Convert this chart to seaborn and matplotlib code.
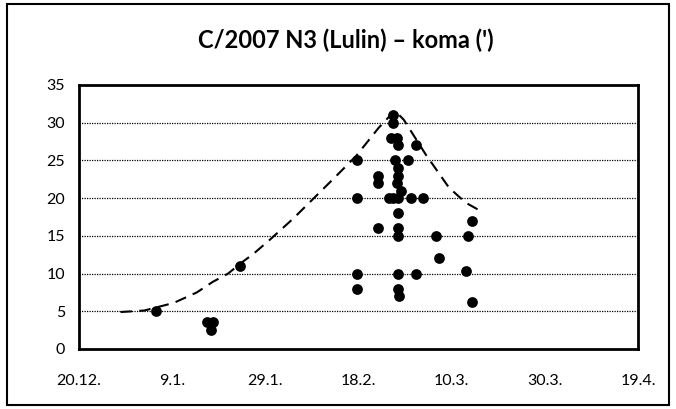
import matplotlib
matplotlib.use("Agg")
import matplotlib.pyplot as plt
import matplotlib.dates as mdates
from matplotlib.patches import Rectangle
from matplotlib.ticker import FixedLocator, FuncFormatter
import seaborn as sns
import pandas as pd

# ---- data ----
obs_dates = [
    "2009-01-05 14:00", "2009-01-16 14:00", "2009-01-17 17:00", "2009-01-17 10:00",
    "2009-01-23 14:00",
    "2009-02-17 14:00", "2009-02-17 14:00", "2009-02-17 14:00", "2009-02-17 14:00",
    "2009-02-22 07:00", "2009-02-22 07:00", "2009-02-22 07:00",
    "2009-02-25 12:00", "2009-02-25 10:00", "2009-02-25 00:00", "2009-02-26 07:00",
    "2009-02-26 10:00", "2009-03-02 10:00",
    "2009-02-25 22:00", "2009-02-28 14:00", "2009-02-26 10:00", "2009-02-26 10:00",
    "2009-02-26 07:00", "2009-02-27 05:00",
    "2009-02-24 14:00", "2009-02-25 12:00", "2009-02-26 14:00", "2009-03-01 07:00",
    "2009-03-03 19:00",
    "2009-02-26 10:00", "2009-02-26 10:00", "2009-02-26 10:00",
    "2009-03-06 17:00", "2009-03-13 14:00", "2009-03-14 07:00", "2009-03-07 07:00",
    "2009-02-26 12:00", "2009-03-02 10:00", "2009-03-13 00:00",
    "2009-02-26 10:00", "2009-02-26 17:00", "2009-03-14 10:00",
]
obs_coma = [
    5, 3.6, 3.6, 2.5,
    11,
    25, 20, 10, 8,
    23, 22, 16,
    31, 30, 28, 28,
    27, 27,
    25, 25, 24, 23,
    22, 21,
    20, 20, 20, 20,
    20,
    18, 16, 15,
    15, 15, 17, 12,
    10, 10, 10.3,
    8, 7, 6.2,
]

model_dates = [
    "2008-12-28 22:00", "2009-01-03 00:00", "2009-01-09 07:00", "2009-01-14 07:00",
    "2009-01-17 17:00", "2009-01-21 00:00", "2009-01-24 00:00", "2009-01-26 10:00",
    "2009-01-30 00:00", "2009-02-04 00:00", "2009-02-08 14:00", "2009-02-13 00:00",
    "2009-02-17 12:00", "2009-02-22 07:00", "2009-02-25 19:00", "2009-02-27 17:00",
    "2009-03-04 10:00", "2009-03-09 10:00", "2009-03-13 00:00", "2009-03-16 05:00",
]
model_coma = [
    4.9, 5.1, 6.1, 7.5,
    8.9, 10.0, 11.5, 12.6,
    14.5, 17.3, 20.1, 22.8,
    25.6, 29.3, 31.6, 30.4,
    25.8, 21.4, 19.4, 18.3,
]

y_ticks = [0, 5, 10, 15, 20, 25, 30, 35]
x_start, x_end = "2008-12-20", "2009-04-19"

title = "C/2007 N3 (Lulin) – koma (')"

# ---- build ----
obs = pd.DataFrame({"date": pd.to_datetime(obs_dates), "coma": obs_coma})
model = pd.DataFrame({"date": pd.to_datetime(model_dates), "coma": model_coma})

sns.set_style("white")
plt.rcParams["font.family"] = ["Lato", "DejaVu Sans"]

fig = plt.figure(figsize=(6.76, 4.09), dpi=100)
ax = fig.add_axes([79 / 676, 1 - 349 / 409, (638 - 79) / 676, (349 - 85) / 409])

sns.lineplot(data=model, x="date", y="coma", ax=ax, sort=False, estimator=None,
             color="black", linewidth=1.5, linestyle=(0, (5.5, 3.5)), zorder=3)
sns.scatterplot(data=obs, x="date", y="coma", ax=ax, color="black", s=60,
                edgecolor="black", linewidth=0, zorder=4)

x0, x1 = pd.Timestamp(x_start), pd.Timestamp(x_end)
ax.set_xlim(mdates.date2num(x0), mdates.date2num(x1))
ax.set_ylim(y_ticks[0], y_ticks[-1])

major = pd.date_range(x0, x1, freq="20D")
minor = pd.date_range(x0, x1, freq="10D")
ax.xaxis.set_major_locator(FixedLocator(mdates.date2num(major)))
ax.xaxis.set_minor_locator(FixedLocator(mdates.date2num(minor)))
ax.xaxis.set_major_formatter(FuncFormatter(
    lambda v, p: "{}.{}.".format(mdates.num2date(v).day, mdates.num2date(v).month)))
ax.set_yticks(y_ticks)

for yv in y_ticks[1:-1]:
    ax.axhline(yv, color="black", linewidth=0.9, linestyle=(0, (1, 1)), zorder=1)

for s in ax.spines.values():
    s.set_color("black")
    s.set_linewidth(2)
    s.set_visible(True)

ax.tick_params(axis="both", which="both", direction="out", color="black",
               length=5, width=2, labelsize=11.5, labelcolor="black")
ax.tick_params(axis="x", pad=13)
ax.tick_params(axis="y", pad=5)
ax.set_xlabel("")
ax.set_ylabel("")

fig.text(346 / 676, 1 - 40 / 409, title, ha="center", va="center",
         fontsize=17, fontweight="bold", color="black")

fig.patches.append(Rectangle((7 / 676, 4 / 409), (669 - 7) / 676, (405 - 4) / 409,
                             transform=fig.transFigure, fill=False,
                             edgecolor="black", linewidth=1.5))

fig.savefig("out.png", dpi=100)
